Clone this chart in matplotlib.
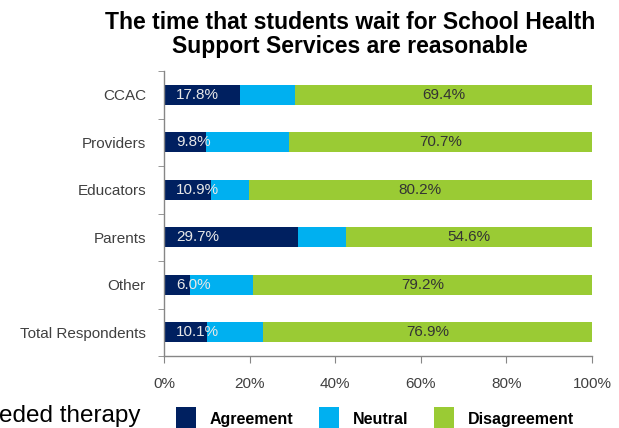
import matplotlib
matplotlib.use("Agg")
import matplotlib.pyplot as plt
from matplotlib.patches import Patch
import numpy as np

plt.rcParams["font.family"] = ["Liberation Sans", "DejaVu Sans"]

NAVY = "#002060"
CYAN = "#00B0F0"
GREEN = "#9ACB34"
AXIS = "#868686"
LABEL = "#404040"

groups = ["CCAC", "Providers", "Educators", "Parents", "Other", "Total Respondents"]
agreement = [17.8, 9.8, 10.9, 29.7, 6.0, 10.1]
neutral = [12.8, 19.5, 8.9, 10.6, 14.8, 13.0]
disagreement = [69.4, 70.7, 80.2, 54.6, 79.2, 76.9]
series_names = ["Agreement", "Neutral", "Disagreement"]
title_lines = ["The time that students wait for School Health",
               "Support Services are reasonable"]

# 100% stacked: each row is scaled to its own total
raw = np.array([agreement, neutral, disagreement], dtype=float)
shares = raw / raw.sum(axis=0) * 100
y = np.arange(len(groups))

fig = plt.figure(figsize=(6.19, 4.28), dpi=100)
ax = fig.add_axes([164 / 619, 1 - 356 / 428, 428 / 619, 285 / 428])

left = np.zeros(len(groups))
for vals, c in zip(shares, [NAVY, CYAN, GREEN]):
    ax.barh(y, vals, left=left, height=0.42, color=c, edgecolor="none")
    left += vals

# agreement labels sit at the base of the bar, disagreement in its segment
for i in range(len(groups)):
    ax.annotate(f"{agreement[i]:.1f}%", xy=(0, y[i]), xytext=(8.5, 0),
                textcoords="offset points", ha="left", va="center",
                fontsize=11, color="#E8E8E8")
    mid = shares[0][i] + shares[1][i] + shares[2][i] / 2
    ax.text(mid, y[i], f"{disagreement[i]:.1f}%", ha="center", va="center",
            fontsize=11, color="#333333")

ax.set_xlim(0, 100)
ax.set_ylim(len(groups) - 0.5, -0.5)
ax.set_xticks(np.arange(0, 101, 20))
ax.set_xticklabels([f"{v}%" for v in range(0, 101, 20)])
ax.set_yticks(y)
ax.set_yticklabels(groups)
ax.set_yticks(np.arange(-0.5, len(groups)), minor=True)
ax.tick_params(axis="y", which="major", length=0, pad=13, labelsize=11,
               labelcolor=LABEL)
ax.tick_params(axis="y", which="minor", length=4, color=AXIS, direction="out")
ax.tick_params(axis="x", length=5, color=AXIS, pad=10, labelsize=11,
               labelcolor=LABEL)
for s in ["top", "right"]:
    ax.spines[s].set_visible(False)
for s in ["left", "bottom"]:
    ax.spines[s].set_color(AXIS)
    ax.spines[s].set_linewidth(1.0)

for line, base in zip(title_lines, [29, 53]):
    fig.text(350 / 619, 1 - base / 428, line, ha="center", va="baseline",
             fontsize=16.5, fontweight="bold", color="black")

fig.text(140 / 619, 1 - 422 / 428, "needed therapy", ha="right",
         va="baseline", fontsize=17.5, color="black")

handles = [Patch(facecolor=c, edgecolor="none") for c in [NAVY, CYAN, GREEN]]
fig.legend(handles, series_names, loc="center left",
           bbox_to_anchor=(176 / 619, 1 - 419 / 428), ncol=3, frameon=False,
           prop={"size": 11.5, "weight": "bold"}, handlelength=1.25,
           handleheight=2.0, handletextpad=0.87, columnspacing=1.6,
           borderpad=0, borderaxespad=0)

fig.savefig("out.png", dpi=100)
